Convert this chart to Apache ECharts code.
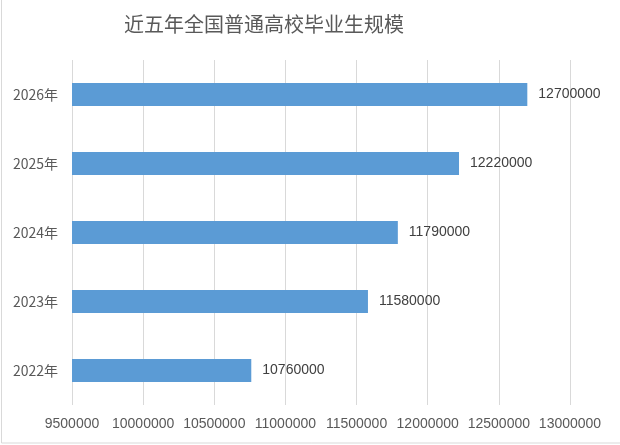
<!DOCTYPE html>
<html><head><meta charset="utf-8">
<script src="https://cdn.jsdelivr.net/npm/echarts@6/dist/echarts.min.js"></script>
<style>html,body{margin:0;padding:0;background:#fff}#c{width:620px;height:445px}</style>
</head><body><div id="c"></div>
<script>
const title = '近五年全国普通高校毕业生规模';
const categories = ['2022年', '2023年', '2024年', '2025年', '2026年'];
const values = [10760000, 11580000, 11790000, 12220000, 12700000];
const xMin = 9500000, xMax = 13000000, xStep = 500000;

const chart = echarts.init(document.getElementById('c'), null, {renderer: 'canvas'});
chart.setOption({
  animation: false,
  backgroundColor: '#fff',
  title: {
    text: title, left: 119, top: 9,
    textStyle: {fontFamily: 'Noto Sans CJK SC', fontSize: 20, fontWeight: 'normal', color: '#595959'}
  },
  graphic: [{type: 'rect', shape: {x: 1.5, y: -5, width: 630, height: 448}, style: {fill: 'none', stroke: '#d9d9d9', lineWidth: 1}, silent: true}],
  grid: {left: 72, right: 50, top: 60, bottom: 40, containLabel: false},
  xAxis: {
    type: 'value', min: xMin, max: xMax, interval: xStep,
    axisLine: {show: false}, axisTick: {show: false},
    splitLine: {lineStyle: {color: '#d9d9d9', width: 1}},
    axisLabel: {margin: 12, color: '#595959', fontSize: 14, fontFamily: 'Liberation Sans', formatter: v => String(v)}
  },
  yAxis: {
    type: 'category', data: categories,
    axisLine: {show: false}, axisTick: {show: false},
    axisLabel: {margin: 14, color: '#595959', fontSize: 14, fontFamily: 'Noto Sans CJK SC'}
  },
  series: [{
    type: 'bar', data: values, barWidth: 23,
    itemStyle: {color: '#5B9BD5'},
    label: {show: true, position: 'right', distance: 11, color: '#404040', fontSize: 14, fontFamily: 'Liberation Sans', formatter: p => String(p.value)}
  }]
});
</script></body></html>
